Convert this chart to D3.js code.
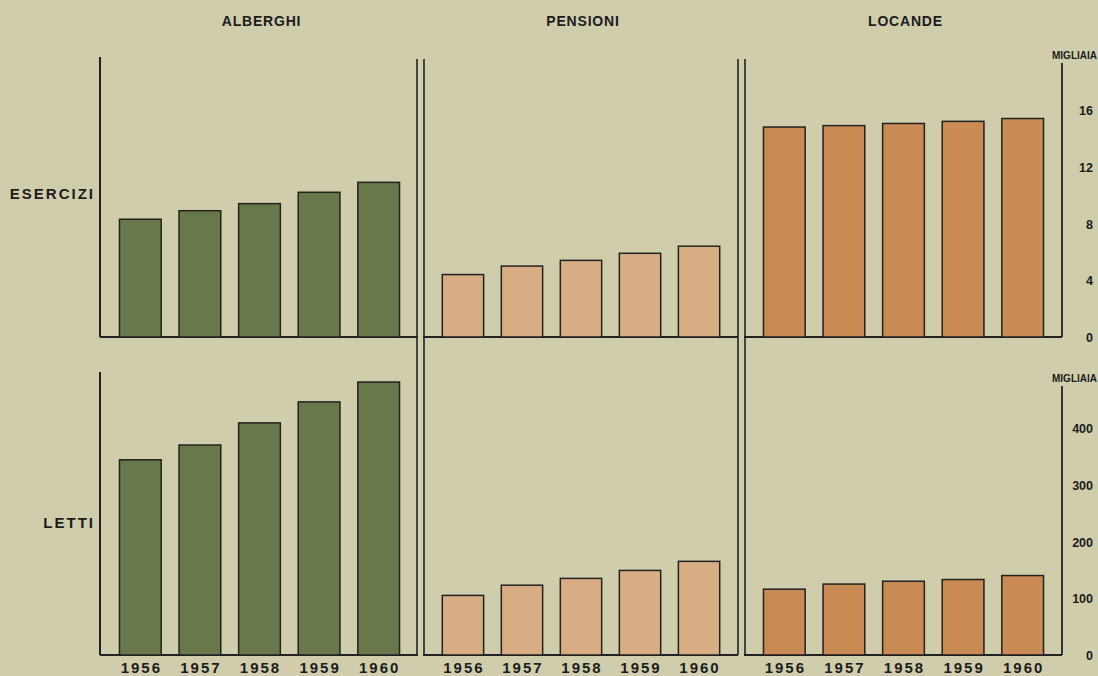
<!DOCTYPE html>
<html>
<head>
<meta charset="utf-8">
<script src="https://cdn.jsdelivr.net/npm/d3@7"></script>
<style>
  body { margin: 0; background: #cfcdab; }
  svg text { font-family: "Liberation Sans", Arial, sans-serif; font-weight: bold; fill: #1c1c1c; }
</style>
</head>
<body>
<div id="plot"></div>
<script>
var w = 1098,
    h = 676;

// data (migliaia)
var years = ['1956', '1957', '1958', '1959', '1960'];
var categories = ['ALBERGHI', 'PENSIONI', 'LOCANDE'];
var colors = ['#68784a', '#d9ad84', '#c98a54'];
var esercizi = [
  [8.3, 8.9, 9.4, 10.2, 10.9],
  [4.4, 5.0, 5.4, 5.9, 6.4],
  [14.8, 14.9, 15.05, 15.2, 15.4]
];
var letti = [
  [344, 370, 409, 446, 481],
  [105, 123, 135, 149, 165],
  [116, 125, 130, 133, 140]
];
var eserciziTicks = [0, 4, 8, 12, 16];
var lettiTicks = [0, 100, 200, 300, 400];

var svg = d3.select('#plot').append('svg')
    .attr('width', w)
    .attr('height', h);

svg.append('rect')
    .attr('width', w)
    .attr('height', h)
    .style('fill', '#cfcdab');

// panel horizontal extents
var panels = [[101, 418], [424, 738], [745, 1062]];

// vertical scales
var yTop = d3.scaleLinear().domain([0, 16]).range([337, 110]);
var yBot = d3.scaleLinear().domain([0, 400]).range([655, 428]);

var rows = [
  {label: 'ESERCIZI', values: esercizi, y: yTop, ticks: eserciziTicks, axisTop: 63, labelY: 199},
  {label: 'LETTI', values: letti, y: yBot, ticks: lettiTicks, axisTop: 386, labelY: 528}
];

var lineColor = '#222';

// headers
svg.selectAll('.header')
    .data(categories)
    .enter()
    .append('text')
    .attr('class', 'header')
    .attr('x', function(d, i){ return (panels[i][0] + panels[i][1]) / 2 + 2; })
    .attr('y', 26)
    .attr('text-anchor', 'middle')
    .style('font-size', '14px')
    .style('letter-spacing', '0.8px')
    .text(function(d){ return d; });

// dividers (double lines)
[417, 424, 738, 745].forEach(function(x){
  svg.append('line')
      .attr('x1', x).attr('x2', x)
      .attr('y1', 59).attr('y2', 655)
      .style('stroke', lineColor)
      .style('stroke-width', 1.6);
});

rows.forEach(function(row){
  var y = row.y;
  var base = y(0);

  // left axis of alberghi
  svg.append('line')
      .attr('x1', 100).attr('x2', 100)
      .attr('y1', row.label === 'ESERCIZI' ? 57 : 372).attr('y2', base)
      .style('stroke', lineColor)
      .style('stroke-width', 2);

  // right axis
  svg.append('line')
      .attr('x1', 1062).attr('x2', 1062)
      .attr('y1', row.axisTop).attr('y2', base)
      .style('stroke', lineColor)
      .style('stroke-width', 1.8);

  svg.append('text')
      .attr('x', 1097)
      .attr('y', row.axisTop - 4)
      .attr('text-anchor', 'end')
      .style('font-size', '10px')
      .text('MIGLIAIA');

  svg.selectAll('.tick-' + row.label)
      .data(row.ticks)
      .enter()
      .append('text')
      .attr('x', 1093)
      .attr('y', function(d){ return y(d) + 5; })
      .attr('text-anchor', 'end')
      .style('font-size', '12.5px')
      .text(function(d){ return d; });

  // row label
  svg.append('text')
      .attr('x', 95)
      .attr('y', row.labelY)
      .attr('text-anchor', 'end')
      .style('font-size', '15px')
      .style('letter-spacing', '2px')
      .text(row.label);

  categories.forEach(function(cat, ci){
    var x = d3.scaleBand()
        .domain(years)
        .range(panels[ci])
        .paddingInner(0.3)
        .paddingOuter(0.31);

    // baseline
    svg.append('line')
        .attr('x1', panels[ci][0] - 1).attr('x2', panels[ci][1])
        .attr('y1', base).attr('y2', base)
        .style('stroke', lineColor)
        .style('stroke-width', 1.8);

    svg.append('g')
        .selectAll('rect')
        .data(row.values[ci])
        .enter()
        .append('rect')
        .attr('x', function(d, i){ return x(years[i]); })
        .attr('y', function(d){ return y(d); })
        .attr('width', x.bandwidth())
        .attr('height', function(d){ return base - y(d); })
        .style('fill', colors[ci])
        .style('stroke', lineColor)
        .style('stroke-width', 1.5);

    if (row.label === 'LETTI') {
      svg.append('g')
          .selectAll('text')
          .data(years)
          .enter()
          .append('text')
          .attr('x', function(d){ return x(d) + x.bandwidth() / 2 + 1; })
          .attr('y', 673)
          .attr('text-anchor', 'middle')
          .style('font-size', '15px')
          .style('letter-spacing', '2px')
          .text(function(d){ return d; });
    }
  });
});
</script>
</body>
</html>
